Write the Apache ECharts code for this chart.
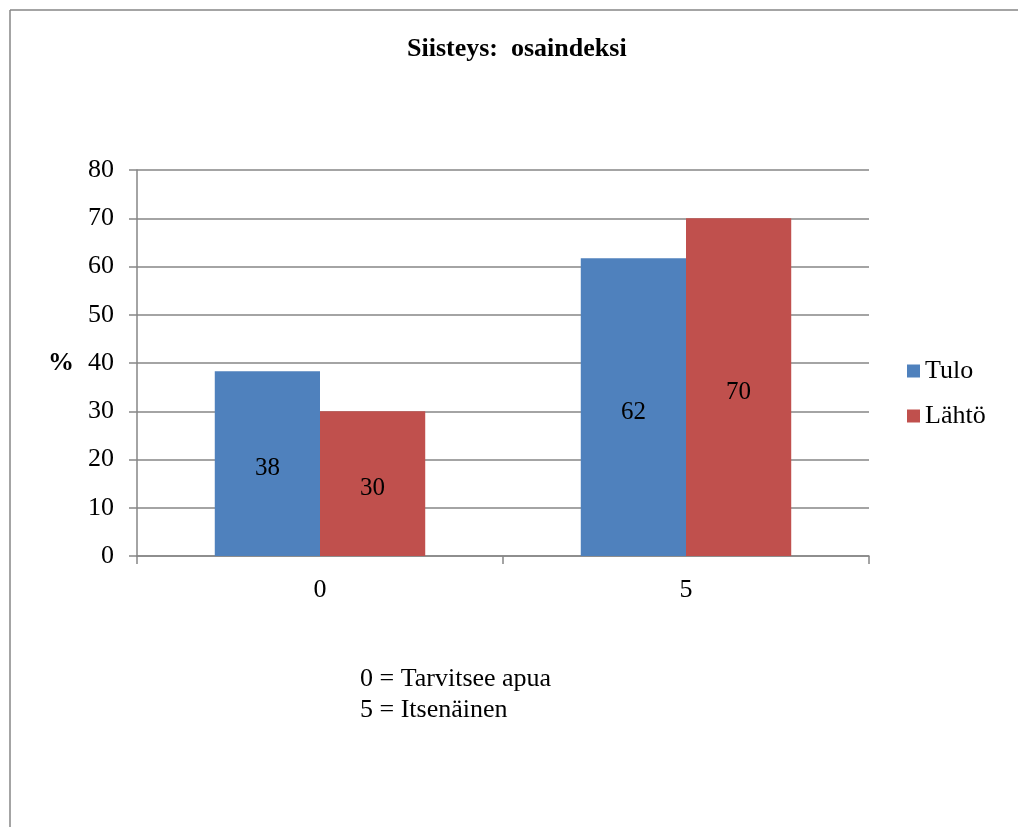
<!DOCTYPE html>
<html><head><meta charset="utf-8">
<script src="https://cdn.jsdelivr.net/npm/echarts@6/dist/echarts.min.js"></script>
<style>html,body{margin:0;padding:0;background:#fff}#c{width:1018px;height:827px}</style>
</head><body><div id="c"></div>
<script>
const categories = ['0', '5'];
const tulo = [38.3, 61.7];
const lahto = [30, 70];
const seriesNames = ['Tulo', 'Lähtö'];
const yTicks = [0, 10, 20, 30, 40, 50, 60, 70, 80];
const titleText = 'Siisteys:  osaindeksi';
const noteLines = ['0 = Tarvitsee apua', '5 = Itsenäinen'];

const font = '"Liberation Serif", "Times New Roman", serif';
const chart = echarts.init(document.getElementById('c'));
const lbl = {show: true, position: 'inside', offset: [0, 5], color: '#000', fontFamily: font, fontSize: 25};
chart.setOption({
  animation: false,
  title: {text: titleText, left: 402, top: 31, textStyle: {fontFamily: font, fontSize: 26, fontWeight: 'bold', color: '#000'}},
  legend: {orient: 'vertical', left: 902, top: 353, itemWidth: 13, itemHeight: 13, itemGap: 19, icon: 'rect',
    textStyle: {fontFamily: font, fontSize: 26, color: '#000', lineHeight: 26}, data: seriesNames},
  grid: {left: 137, right: 149, top: 170, bottom: 271},
  xAxis: {type: 'category', data: categories, boundaryGap: true,
    axisLine: {lineStyle: {color: '#868686', width: 1.5}},
    axisTick: {show: true, length: 8, lineStyle: {color: '#868686', width: 1.5}},
    axisLabel: {fontFamily: font, fontSize: 26, color: '#000', margin: 21}},
  yAxis: {type: 'value', min: yTicks[0], max: yTicks[yTicks.length-1], interval: 10,
    name: '%', nameLocation: 'middle', nameRotate: 0, nameGap: 63,
    nameTextStyle: {fontFamily: font, fontSize: 26, fontWeight: 'bold', color: '#000'},
    axisLine: {show: true, lineStyle: {color: '#868686', width: 1.5}},
    axisTick: {show: true, length: 8, lineStyle: {color: '#868686', width: 1.5}},
    splitLine: {lineStyle: {color: '#868686', width: 1.5}},
    axisLabel: {fontFamily: font, fontSize: 26, color: '#000', margin: 23}},
  series: [
    {name: seriesNames[0], type: 'bar', data: tulo, barGap: '0%', barCategoryGap: '42.5%', itemStyle: {color: '#4F81BD'},
      label: Object.assign({}, lbl, {formatter: p => Math.round(p.value)})},
    {name: seriesNames[1], type: 'bar', data: lahto, itemStyle: {color: '#C0504D'},
      label: Object.assign({}, lbl, {formatter: p => Math.round(p.value)})}
  ],
  graphic: [
    {type: 'line', shape: {x1: 10, y1: 10, x2: 1018, y2: 10}, style: {stroke: '#868686', lineWidth: 1.5}},
    {type: 'line', shape: {x1: 10, y1: 10, x2: 10, y2: 827}, style: {stroke: '#868686', lineWidth: 1.5}},
    {type: 'text', left: 360, top: 664, style: {text: noteLines.join('\n'), font: '26px ' + font, fill: '#000', lineHeight: 31}}
  ]
});
</script></body></html>
